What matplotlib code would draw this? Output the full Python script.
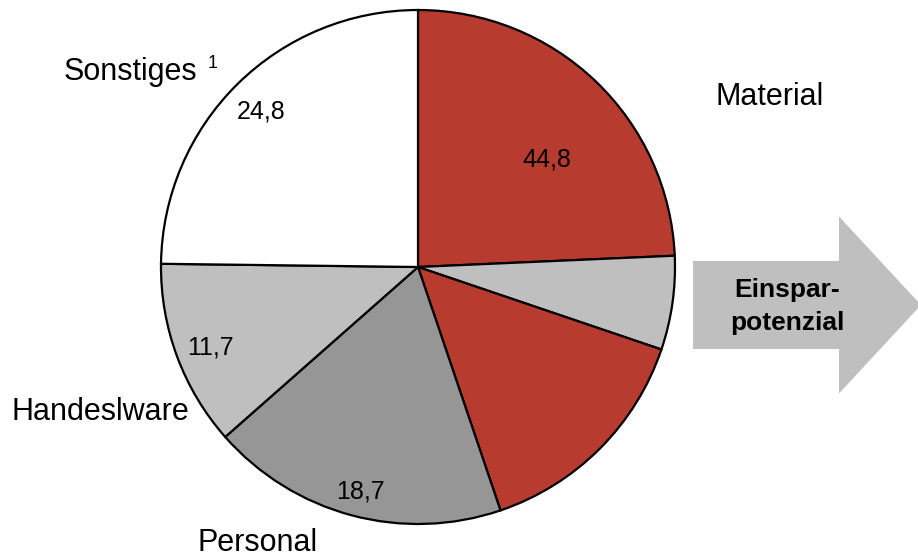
import matplotlib
matplotlib.use("Agg")
import matplotlib.pyplot as plt
from matplotlib.patches import FancyArrow

plt.rcParams["font.family"] = ["Liberation Sans", "DejaVu Sans"]

# Material (44,8) is split into two red parts and the saving potential
slice_values = [24.3, 5.9, 14.6, 18.7, 11.7, 24.8]
slice_colors = ["#B83B30", "#BFBFBF", "#B83B30", "#969696", "#BFBFBF", "#FFFFFF"]
value_labels = ["44,8", "18,7", "11,7", "24,8"]
category_labels = ["Material", "Personal", "Handeslware", "Sonstiges"]

W, H = 918, 559
fig = plt.figure(figsize=(W / 100, H / 100), dpi=100)
ax = fig.add_axes([0, 0, 1, 1])

cx, cy, r = 418, H - 267, 257
ax.pie(slice_values, colors=slice_colors, startangle=90, counterclock=False,
       center=(cx, cy), radius=r, frame=True,
       wedgeprops=dict(edgecolor="black", linewidth=1.6))

# value labels inside the pie
val_pos = [(547, 160), (360, 492), (210, 347), (261, 112)]
for txt, (x, y) in zip(value_labels, val_pos):
    ax.text(x, H - y, txt, fontsize=18, ha="center", va="center")

# category labels outside
cat_pos = [(770, 97), (258, 543), (100, 412), (130, 72)]
for txt, (x, y) in zip(category_labels, cat_pos):
    ax.text(x, H - y, txt, fontsize=22, ha="center", va="center")
ax.text(213, H - 63, "1", fontsize=13, ha="center", va="center")

# arrow for Einsparpotenzial
ax.add_patch(FancyArrow(693, H - 305, 228, 0, width=88, head_width=177,
                        head_length=82, length_includes_head=True,
                        facecolor="#BFBFBF", edgecolor="none"))
ax.text(787, H - 290, "Einspar-", fontsize=19, fontweight="bold", ha="center", va="center")
ax.text(787, H - 323, "potenzial", fontsize=19, fontweight="bold", ha="center", va="center")

ax.set_xlim(0, W)
ax.set_ylim(0, H)
ax.set_aspect("equal")
ax.axis("off")

fig.savefig("out.png", dpi=100)
